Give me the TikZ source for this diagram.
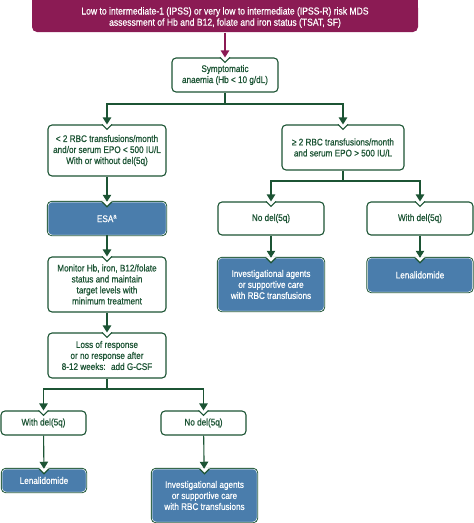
\documentclass[tikz,border=0pt]{standalone}
\usepackage{fontspec}
\setmainfont{Liberation Sans}[FakeStretch=0.85, FakeBold=0.6]
\usetikzlibrary{calc,arrows.meta}
\definecolor{mdsred}{RGB}{139,27,84}
\definecolor{dkgreen}{RGB}{28,84,52}
\definecolor{actblue}{RGB}{74,125,172}
\tikzset{
  box/.style={draw=dkgreen, line width=1.1pt, fill=white, rounded corners=4pt,
    align=center, text=dkgreen, inner sep=2pt},
  act/.style={box, fill=actblue, draw=white, line width=0.5pt, text=white,
    preaction={draw=dkgreen, line width=2.4pt}},
  head/.style={fill=mdsred, text=white, rounded corners=5pt, align=center, inner sep=2pt,
    font=\fontsize{10.1}{11.2}\selectfont}
}
\newcommand{\notch}[1]{%
  \fill[white] ($(#1.north)+(-5,-1.2)$) -- ($(#1.north)+(-5,0)$) -- ($(#1.north)+(0,5)$)
    -- ($(#1.north)+(5,0)$) -- ($(#1.north)+(5,-1.2)$) -- cycle;
  \draw[dkgreen, line width=1.1pt] ($(#1.north)+(-5,0)$) -- ($(#1.north)+(0,5)$) -- ($(#1.north)+(5,0)$);}

\begin{document}
\begin{tikzpicture}[x=1pt, y=-1pt, dkgreen, line width=1.1pt,
    font=\fontsize{9.6}{11}\selectfont, >={Triangle[width=8.5pt,length=7pt]}]
  \useasboundingbox (0,0) rectangle (474,523);

  \fill[mdsred] (32,-2) rectangle (418,10);
  \node[head, minimum width=386, minimum height=29] (mds) at (225,17.5)
    {Low to intermediate-1 (IPSS) or very low to intermediate (IPSS-R) risk MDS\\
     assessment of Hb and B12, folate and iron status (TSAT, SF)};

  \node[box, minimum width=106, minimum height=34] (symp) at (225,75)
    {Symptomatic\\anaemia (Hb < 10 g/dL)};

  \node[box, minimum width=118, minimum height=51] (lowtx) at (107,150.5)
    {< 2 RBC transfusions/month\\and/or serum EPO < 500 IU/L\\With or without del(5q)};
  \node[box, minimum width=122, minimum height=45] (hightx) at (343,147.5)
    {≥ 2 RBC transfusions/month\\and serum EPO > 500 IU/L};

  \node[act, minimum width=118, minimum height=33] (esa) at (107,218.5) {ESA\textsuperscript{a}};
  \node[box, minimum width=106, minimum height=33] (nodelA) at (271,218.5) {No del(5q)};
  \node[box, minimum width=106, minimum height=33] (withdelA) at (420,218.5) {With del(5q)};

  \node[box, minimum width=118, minimum height=55] (monitor) at (107,284.5)
    {Monitor Hb, iron, B12/folate\\status and maintain\\target levels with\\minimum treatment};
  \node[act, minimum width=106, minimum height=53] (investA) at (271,284.5)
    {Investigational agents\\or supportive care\\with RBC transfusions};
  \node[act, minimum width=105, minimum height=34] (lenaA) at (420,275) {Lenalidomide};

  \node[box, minimum width=118, minimum height=45] (loss) at (107,355.5)
    {Loss of response\\or no response after\\8-12 weeks:~ add G-CSF};

  \node[box, minimum width=85, minimum height=24] (withdelB) at (43.5,423) {With del(5q)};
  \node[box, minimum width=85, minimum height=24] (nodelB) at (203.5,423) {No del(5q)};

  \node[act, minimum width=84, minimum height=23] (lenaB) at (44,480.5) {Lenalidomide};
  \node[act, minimum width=105, minimum height=53] (investB) at (204.5,495.5)
    {Investigational agents\\or supportive care\\with RBC transfusions};

  \foreach \nd in {symp,lowtx,hightx,esa,nodelA,withdelA,monitor,investA,lenaA,
                   loss,withdelB,nodelB,lenaB,investB}
    \notch{\nd};

  \coordinate (s1) at (225,104);
  \coordinate (s2) at (343,181);
  \coordinate (s3) at (107,389);

  \draw[->, mdsred] (mds) -- (symp);

  \draw (symp) -- (s1);
  \draw[->] (s1) -| (lowtx);
  \draw[->] (s1) -| (hightx);

  \draw[->] (lowtx) edge (esa);
  \draw[->] (esa) edge (monitor);
  \draw[->] (monitor) edge (loss);

  \draw (hightx) -- (s2);
  \draw[->] (s2) -| (nodelA);
  \draw[->] (s2) -| (withdelA);
  \draw[->] (nodelA) edge (investA);
  \draw[->] (withdelA) edge (lenaA);

  \draw (loss) -- (s3);
  \draw[->] (s3) -| (withdelB);
  \draw[->] (s3) -| (nodelB);
  \draw[->] (withdelB) edge (lenaB);
  \draw[->] (nodelB) edge (investB);
\end{tikzpicture}
\end{document}
